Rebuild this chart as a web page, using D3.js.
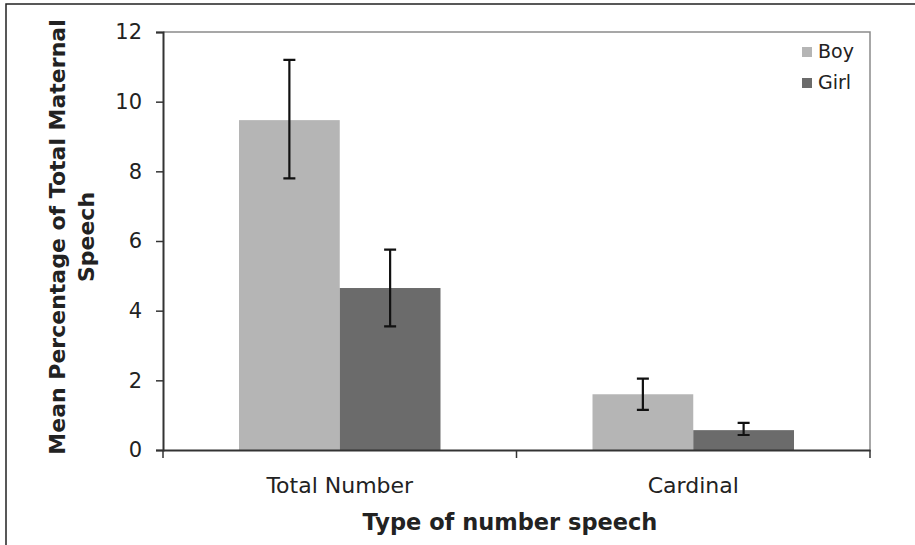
<!DOCTYPE html>
<html>

<head>
    <meta charset='utf-8'>
    <title>Number speech by child gender</title>
    <script type='text/javascript' src='https://cdn.jsdelivr.net/npm/d3@7'></script>
    <style>
        body { margin: 0; background: #fff; }
        text { font-family: 'DejaVu Sans', Verdana, sans-serif; fill: #222; }
    </style>
</head>

<body>
    <svg width='915' height='545'></svg>
    <script type='text/javascript'>
        // data
        const categories = ['Total Number', 'Cardinal']
        const series = ['Boy', 'Girl']
        const boyMeans = [9.47, 1.6]
        const girlMeans = [4.65, 0.57]
        const boyLow = [7.8, 1.15]
        const boyHigh = [11.2, 2.05]
        const girlLow = [3.55, 0.43]
        const girlHigh = [5.75, 0.78]
        const yTicks = [0, 2, 4, 6, 8, 10, 12]
        const colors = ['#b5b5b5', '#6b6b6b']

        const svg = d3.select('svg')
        const mLeft = 163, mRight = 870, mTop = 32, mBottom = 450

        // outer frame (only top and left edges show in the picture)
        svg.append('rect')
            .attr('x', 6).attr('y', 4)
            .attr('width', 1000).attr('height', 1000)
            .attr('fill', 'none').attr('stroke', '#222').attr('stroke-width', 1.5)

        const x0 = d3.scaleBand().domain(categories).range([mLeft, mRight])
        const groupW = x0.bandwidth() * 0.57
        const xSub = d3.scaleBand().domain(series).range([0, groupW])
        const y = d3.scaleLinear().domain([0, 12]).range([mBottom, mTop])

        // plot area outline (top and right)
        svg.append('path')
            .attr('d', `M${mLeft},${mTop}H${mRight}V${mBottom}`)
            .attr('fill', 'none').attr('stroke', '#8a8a8a').attr('stroke-width', 1.5)

        const rows = categories.map((c, i) => [
            { cat: c, s: 'Boy', v: boyMeans[i], lo: boyLow[i], hi: boyHigh[i] },
            { cat: c, s: 'Girl', v: girlMeans[i], lo: girlLow[i], hi: girlHigh[i] }
        ]).flat()

        const barX = d => x0(d.cat) + (x0.bandwidth() - groupW) / 2 + xSub(d.s)

        svg.append('g').selectAll('rect').data(rows)
            .enter().append('rect')
            .attr('x', d => barX(d))
            .attr('width', xSub.bandwidth())
            .attr('y', d => y(d.v))
            .attr('height', d => y(0) - y(d.v))
            .attr('fill', d => colors[series.indexOf(d.s)])

        // error bars
        const eb = svg.append('g').attr('stroke', '#111').attr('stroke-width', 2.2).attr('fill', 'none')
        eb.selectAll('path').data(rows)
            .enter().append('path')
            .attr('d', d => {
                const cx = barX(d) + xSub.bandwidth() / 2
                return `M${cx - 6},${y(d.hi)}H${cx + 6}M${cx},${y(d.hi)}V${y(d.lo)}M${cx - 6},${y(d.lo)}H${cx + 6}`
            })

        // y axis
        const yAxis = svg.append('g')
            .attr('transform', `translate(${mLeft},0)`)
            .call(d3.axisLeft(y).tickValues(yTicks).tickSize(7).tickPadding(14))
        yAxis.select('.domain').attr('stroke', '#333').attr('stroke-width', 2)
        yAxis.selectAll('.tick line').attr('stroke', '#333').attr('stroke-width', 1.5)
        yAxis.selectAll('text').attr('font-size', 21).attr('fill', '#222')
            .style('font-family', "'DejaVu Sans', Verdana, sans-serif")

        // x axis
        const xAxis = svg.append('g')
            .attr('transform', `translate(0,${mBottom})`)
            .call(d3.axisBottom(x0).tickSize(0).tickPadding(27))
        xAxis.select('.domain').attr('stroke', '#333').attr('stroke-width', 2)
        xAxis.selectAll('text').attr('font-size', 22).attr('fill', '#222')
            .style('font-family', "'DejaVu Sans', Verdana, sans-serif")
        const bounds = categories.map(c => x0(c)).concat([x0(categories[categories.length - 1]) + x0.bandwidth()])
        svg.append('g').selectAll('line').data(bounds)
            .enter().append('line')
            .attr('x1', d => d).attr('x2', d => d)
            .attr('y1', mBottom).attr('y2', mBottom + 8)
            .attr('stroke', '#333').attr('stroke-width', 1.5)

        // axis titles
        svg.append('text')
            .attr('x', 510).attr('y', 530)
            .attr('text-anchor', 'middle').attr('font-size', 22.5).attr('font-weight', 'bold')
            .text('Type of number speech')

        const yt = svg.append('text')
            .attr('transform', `translate(65,${(mTop + mBottom) / 2 - 4}) rotate(-90)`)
            .attr('text-anchor', 'middle').attr('font-size', 22).attr('font-weight', 'bold')
        yt.append('tspan').attr('x', 0).attr('dy', 0).text('Mean Percentage of Total Maternal')
        yt.append('tspan').attr('x', 0).attr('dy', 29).text('Speech')

        // legend
        const lg = svg.append('g').attr('transform', 'translate(802,46)')
        series.forEach((s, i) => {
            const row = lg.append('g').attr('transform', `translate(0,${i * 31})`)
            row.append('rect').attr('width', 10).attr('height', 10).attr('y', 1).attr('fill', colors[i])
            row.append('text').attr('x', 16).attr('y', 12).attr('font-size', 19).text(s)
        })
    </script>
</body>

</html>
